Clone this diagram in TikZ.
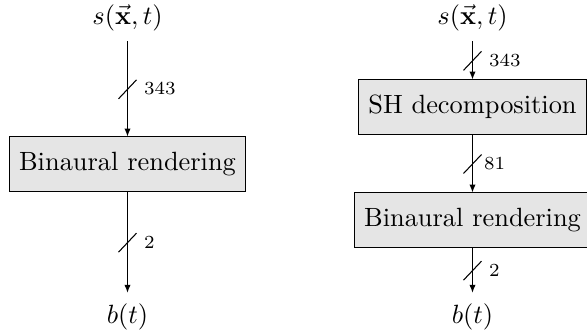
\documentclass[tikz,border=0pt]{standalone}
\usetikzlibrary{arrows.meta}
\begin{document}
\begin{tikzpicture}[x=0.379pt,y=-0.379pt,
  lab/.style={inner sep=3.8pt},
  blk/.style={draw, fill=black!10, minimum height=20.5pt, inner sep=0pt},
  flow/.style={-{Latex[length=3pt,width=2.4pt]}},
  num/.style={font=\scriptsize, anchor=west, inner sep=0pt}]
\useasboundingbox (0,0) rectangle (587,334);
% left chain
\node[lab] (s1) at (127.5,17.5) {$s(\vec{\mathbf{x}},t)$};
\node[blk, minimum width=89.4pt] (r1) at (127.5,164) {Binaural rendering};
\node[lab] (b1) at (127.5,316.5) {$b(t)$};
\draw[flow] (s1.south) -- (r1.north) coordinate[pos=0.5] (m1);
\draw[flow] (r1.south) -- (b1.north) coordinate[pos=0.5] (m2);
\draw (m1) ++(-9,10) -- ++(18,-19);
\draw (m2) ++(-9,10) -- ++(18,-19);
\node[num] (n1) at (m1) [xshift=6.1pt] {343};
\node[num] (n2) at (m2) [xshift=6.1pt] {2};
% right chain
\node[lab] (s2) at (472.5,17.5) {$s(\vec{\mathbf{x}},t)$};
\node[blk, minimum width=86.4pt] (d2) at (472.5,107) {SH decomposition};
\node[blk, minimum width=89.6pt] (r2) at (472.5,220) {Binaural rendering};
\node[lab] (b2) at (472.5,316.5) {$b(t)$};
\draw[flow] (s2.south) -- (d2.north) coordinate[pos=0.5] (m3);
\draw[flow] (d2.south) -- (r2.north) coordinate[pos=0.5] (m4);
\draw[flow] (r2.south) -- (b2.north) coordinate[pos=0.5] (m5);
\draw (m3) ++(-9,10) -- ++(18,-19);
\draw (m4) ++(-9,10) -- ++(18,-19);
\draw (m5) ++(-9,10) -- ++(18,-19);
\node[num] (n3) at (m3) [xshift=6.1pt] {343};
\node[num] (n4) at (m4) [xshift=4.2pt] {81};
\node[num] (n5) at (m5) [xshift=6.1pt] {2};
\end{tikzpicture}
\end{document}
